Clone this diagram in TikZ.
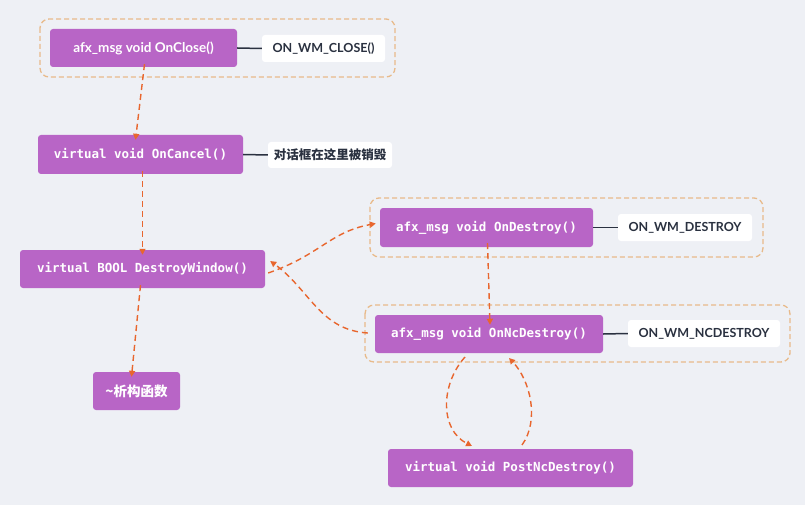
\documentclass[tikz,border=0pt]{standalone}
\usepackage{fontspec}
\setmainfont{Lato}
\newfontfamily\monof{DejaVu Sans Mono}
\newfontfamily\cjk{Noto Sans CJK SC}
\usetikzlibrary{arrows.meta}
\definecolor{bg}{HTML}{EEF0F5}
\definecolor{pur}{HTML}{B865C6}
\definecolor{org}{HTML}{E8662E}
\definecolor{grp}{HTML}{E8BA8A}
\definecolor{dark}{HTML}{2A3140}
\begin{document}
\begin{tikzpicture}[x=1pt,y=-1pt,
  box/.style={fill=pur,rounded corners=3pt,text=white,inner sep=0pt,font=\monof\bfseries\fontsize{12.5}{14}\selectfont},
  lab/.style={fill=white,rounded corners=3pt,text=dark,inner sep=0pt,font=\bfseries\fontsize{12.5}{14}\selectfont},
  grp/.style={draw=grp,dashed,dash pattern=on 5pt off 3pt,line width=1.3pt,rounded corners=9pt},
  arr/.style={draw=org,line width=1.4pt,dash pattern=on 6pt off 4pt,-{Triangle[length=6pt,width=6pt]}},
  ln/.style={draw=dark,line width=1.5pt}]
\fill[bg] (0,0) rectangle (805,505);
\useasboundingbox (0,0) rectangle (805,505);
% groups
\draw[grp] (40,19) rectangle (395,77);
\draw[grp] (370,198) rectangle (763,257);
\draw[grp] (365,305) rectangle (790,362);
% nodes
\node[box,minimum width=187pt,minimum height=38pt,font=\bfseries\fontsize{13.5}{15}\selectfont] (close) at (143.5,48) {afx\_msg void OnClose()};
\node[lab,minimum width=123pt,minimum height=27pt] (lclose) at (323.5,48.5) {ON\_WM\_CLOSE()};
\node[box,minimum width=205pt,minimum height=39pt] (cancel) at (140.5,154.5) {virtual void OnCancel()};
\node[lab,minimum width=124pt,minimum height=26pt,font=\cjk\bfseries\fontsize{12.5}{14}\selectfont] (lcancel) at (330,155) {对话框在这里被销毁};
\node[box,minimum width=245pt,minimum height=38pt] (dw) at (142.5,269) {virtual BOOL DestroyWindow()};
\node[box,minimum width=87pt,minimum height=38pt,font=\cjk\bfseries\fontsize{13.5}{15}\selectfont] (dtor) at (136.5,391) {\textasciitilde 析构函数};
\node[box,minimum width=213pt,minimum height=39pt] (od) at (486.5,227.5) {afx\_msg void OnDestroy()};
\node[lab,minimum width=134pt,minimum height=27pt] (lod) at (685,227.5) {ON\_WM\_DESTROY};
\node[box,minimum width=228pt,minimum height=38pt] (onc) at (489,334) {afx\_msg void OnNcDestroy()};
\node[lab,minimum width=152pt,minimum height=27pt] (lonc) at (704,333.5) {ON\_WM\_NCDESTROY};
\node[box,minimum width=245pt,minimum height=38pt] (post) at (510.5,468) {virtual void PostNcDestroy()};
% label lines
\draw[ln] (close.east) -- (lclose.west);
\draw[ln] (cancel.east) -- (lcancel.west);
\draw[ln] (od.east) -- (lod.west);
\draw[ln] (onc.east) -- (lonc.west);
% arrows
\path[arr] ([xshift=1pt,yshift=3pt]close.south) -- ([xshift=-5pt,yshift=-5pt]cancel.north);
\path[arr] ([xshift=2pt,yshift=3pt]cancel.south) -- ([yshift=-5pt]dw.north);
\path[arr] ([xshift=-2pt,yshift=3pt]dw.south) -- ([xshift=-5pt,yshift=-5pt]dtor.north);
\path[arr] ([xshift=3pt,yshift=-4pt]dw.east) .. controls (320,255) and (330,232) .. ([xshift=-4pt,yshift=4pt]od.west);
\path[arr] ([xshift=-7pt,yshift=1pt]onc.west) .. controls (320,330) and (310,290) .. ([xshift=5pt,yshift=8pt]dw.east);
\path[arr] ([xshift=1pt,yshift=4pt]od.south) -- ([xshift=1pt,yshift=-10pt]onc.north);
\coordinate (a1) at (465,357);
\coordinate (a2) at (472,446);
\coordinate (b1) at (522,445);
\coordinate (b2) at (509,358);
\path[arr] (a1) .. controls (440,385) and (440,430) .. (a2);
\path[arr] (b1) .. controls (540,420) and (530,380) .. (b2);
\end{tikzpicture}
\end{document}
